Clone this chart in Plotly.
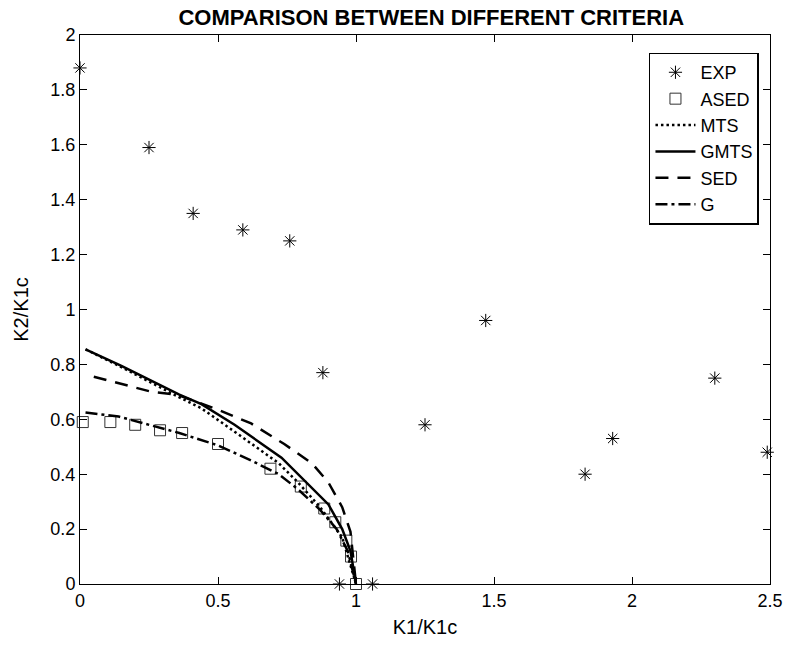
import plotly.graph_objects as go

# Experimental fracture points
exp_k1 = [0.0, 0.25, 0.41, 0.59, 0.76, 0.88, 0.94, 1.06, 1.25, 1.47, 1.83, 1.93, 2.30, 2.49]
exp_k2 = [1.88, 1.59, 1.35, 1.29, 1.25, 0.77, 0.0, 0.0, 0.58, 0.96, 0.40, 0.53, 0.75, 0.48]

# ASED criterion
ased_k1 = [0.01, 0.11, 0.20, 0.29, 0.37, 0.50, 0.69, 0.80, 0.885, 0.925, 0.965, 0.982, 1.0]
ased_k2 = [0.59, 0.59, 0.58, 0.56, 0.55, 0.51, 0.42, 0.355, 0.275, 0.225, 0.158, 0.10, 0.0]

# MTS criterion
mts_k1 = [0.02, 0.15, 0.36, 0.44, 0.56, 0.72, 0.79, 0.87, 0.95, 1.0]
mts_k2 = [0.855, 0.79, 0.68, 0.64, 0.555, 0.44, 0.37, 0.28, 0.17, 0.0]

# GMTS criterion
gmts_k1 = [0.02, 0.15, 0.36, 0.44, 0.56, 0.73, 0.90, 0.95, 0.98, 1.0]
gmts_k2 = [0.855, 0.795, 0.69, 0.655, 0.58, 0.46, 0.29, 0.20, 0.12, 0.0]

# SED criterion
sed_k1 = [0.05, 0.26, 0.35, 0.50, 0.62, 0.74, 0.84, 0.90, 0.95, 0.98, 1.0]
sed_k2 = [0.755, 0.70, 0.69, 0.635, 0.585, 0.51, 0.44, 0.37, 0.28, 0.19, 0.0]

# G criterion
g_k1 = [0.02, 0.14, 0.36, 0.50, 0.62, 0.72, 0.79, 0.87, 0.93, 0.97, 1.0]
g_k2 = [0.625, 0.61, 0.55, 0.505, 0.45, 0.40, 0.345, 0.27, 0.20, 0.12, 0.0]

FONT = "Liberation Sans, Arial, sans-serif"

fig = go.Figure()
fig.add_trace(go.Scatter(
    x=exp_k1, y=exp_k2, mode="markers", name="EXP", cliponaxis=False,
    marker=dict(symbol="asterisk-open", size=11, color="black",
                line=dict(color="black", width=1)),
))
fig.add_trace(go.Scatter(
    x=ased_k1, y=ased_k2, mode="markers", name="ASED", cliponaxis=False,
    marker=dict(symbol="square-open", size=11, color="#333333",
                line=dict(color="#333333", width=1)),
))
fig.add_trace(go.Scatter(
    x=mts_k1, y=mts_k2, mode="lines", name="MTS",
    line=dict(color="black", width=2.5, dash="2.5px,3px"),
))
fig.add_trace(go.Scatter(
    x=gmts_k1, y=gmts_k2, mode="lines", name="GMTS",
    line=dict(color="black", width=2.5),
))
fig.add_trace(go.Scatter(
    x=sed_k1, y=sed_k2, mode="lines", name="SED",
    line=dict(color="black", width=2.5, dash="13px,9px"),
))
fig.add_trace(go.Scatter(
    x=g_k1, y=g_k2, mode="lines", name="G",
    line=dict(color="black", width=2.5, dash="12px,4px,3px,4px"),
))

axis_common = dict(
    showgrid=False, zeroline=False, showline=True, linecolor="black",
    linewidth=1, mirror="ticks", ticks="inside", ticklen=7,
    tickcolor="black", tickfont=dict(family=FONT, size=18, color="black"),
)

fig.update_layout(
    width=795, height=655,
    margin=dict(l=80, r=20, t=35, b=71),
    paper_bgcolor="white", plot_bgcolor="white",
    font=dict(family=FONT, color="black"),
    title=dict(text="<b>COMPARISON BETWEEN DIFFERENT CRITERIA</b>",
               x=0.5425, xanchor="center", y=0.974, yanchor="middle",
               font=dict(family=FONT, size=22, color="black")),
    xaxis=dict(range=[0, 2.5], tickvals=[0, 0.5, 1, 1.5, 2, 2.5],
               ticktext=["0", "0.5", "1", "1.5", "2", "2.5"],
               title=dict(text="K1/K1c", font=dict(family=FONT, size=20), standoff=10),
               **axis_common),
    yaxis=dict(range=[0, 2], tickvals=[0, 0.2, 0.4, 0.6, 0.8, 1, 1.2, 1.4, 1.6, 1.8, 2],
               ticktext=["0", "0.2", "0.4", "0.6", "0.8", "1", "1.2", "1.4", "1.6", "1.8", "2"],
               title=dict(text="K2/K1c", font=dict(family=FONT, size=20), standoff=16),
               **axis_common),
    legend=dict(x=0.984, y=0.968, xanchor="right", yanchor="top",
                bgcolor="white", bordercolor="black", borderwidth=1.5,
                font=dict(family=FONT, size=18, color="black"),
                itemwidth=40, tracegroupgap=0),
    showlegend=True,
)

fig.write_html("out.html")
